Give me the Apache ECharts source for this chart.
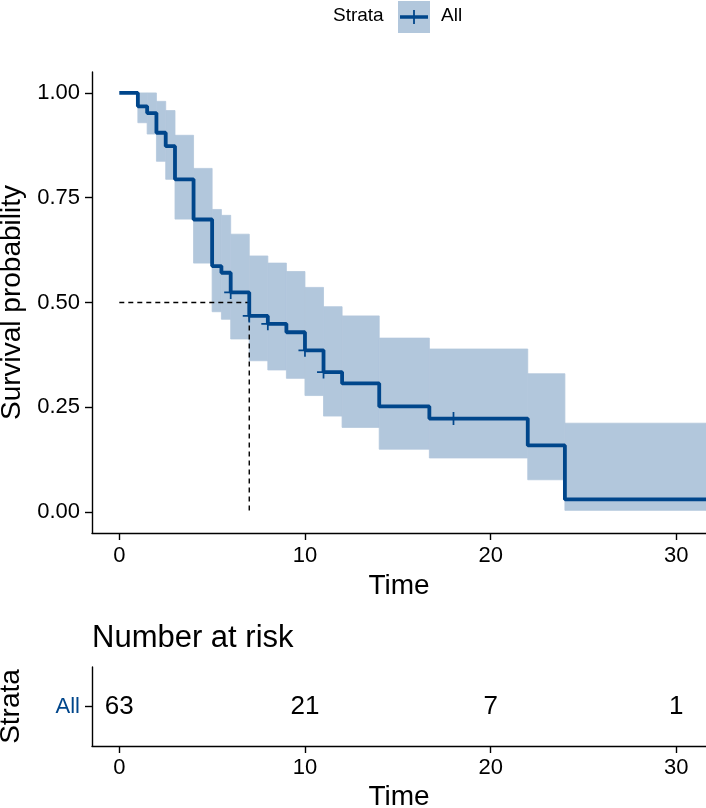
<!DOCTYPE html>
<html>
<head>
<meta charset="utf-8">
<title>Survival curve</title>
<script src="https://cdn.jsdelivr.net/npm/echarts@6/dist/echarts.min.js"></script>
<style>
    html, body { margin: 0; padding: 0; background: #fff; }
    #chart { width: 706px; height: 808px; }
</style>
</head>
<body>
<div id="chart"></div>
<script>
    // Kaplan-Meier estimate (step points)
    var times = [0, 1, 1.5, 2, 2.5, 3, 4, 5, 5.5, 6, 7, 8, 9, 10, 11, 12, 14, 16.7, 22, 24, 31.6];
    var surv = [1, 0.968, 0.952, 0.905, 0.873, 0.794, 0.698, 0.587, 0.571, 0.524, 0.468, 0.449, 0.429, 0.386, 0.334, 0.307, 0.252, 0.223, 0.159, 0.030, 0.030];

    // 95% confidence band, one entry per step starting at bandStart
    var bandStart = [1, 1.5, 2, 2.5, 3, 4, 5, 5.5, 6, 7, 8, 9, 10, 11, 12, 14, 16.7, 22, 24];
    var bandLower = [0.929, 0.902, 0.837, 0.794, 0.699, 0.594, 0.478, 0.460, 0.413, 0.361, 0.339, 0.319, 0.278, 0.229, 0.202, 0.150, 0.129, 0.077, 0.004];
    var bandUpper = [1.0, 1.0, 0.980, 0.958, 0.899, 0.820, 0.722, 0.708, 0.663, 0.611, 0.594, 0.574, 0.536, 0.490, 0.468, 0.415, 0.389, 0.330, 0.212];

    // censored observations
    var censorTimes = [6, 7, 8, 10, 11, 18];

    // number at risk table
    var riskTimes = [0, 10, 20, 30];
    var riskCounts = [63, 21, 7, 1];
    var strata = ['All'];

    var xTicks = [0, 10, 20, 30];
    var yTicks = [0, 0.25, 0.5, 0.75, 1];

    var lineColor = '#00468B';
    var bandColor = '#B2C7DC';
    var font = "'Liberation Sans', Arial, sans-serif";

    function survAt(t) {
        var s = surv[0];
        for (var i = 0; i < times.length; i++) {
            if (times[i] <= t) s = surv[i];
        }
        return s;
    }

    var lastTime = times[times.length - 1];
    var bandData = bandStart.map(function (t, i) {
        var end = i < bandStart.length - 1 ? bandStart[i + 1] : lastTime;
        return [t, end, bandLower[i], bandUpper[i]];
    });
    var kmData = times.map(function (t, i) { return [t, surv[i]]; });
    var censorData = censorTimes.map(function (t) { return [t, survAt(t)]; });

    var median = null;
    for (var i = 0; i < times.length; i++) {
        if (surv[i] <= 0.5) { median = times[i]; break; }
    }
    var medianData = [[0, 0.5], [median, 0.5], [median, 0]];

    var riskData = riskTimes.map(function (t, i) { return [t, 0, riskCounts[i]]; });

    var axisLine = { show: true, onZero: false, lineStyle: { color: '#000', width: 1.4 } };
    var axisTick = { show: true, length: 7, lineStyle: { color: '#000', width: 1.4 } };

    function timeAxis(gridIndex, margin, nameGap) {
        return {
            type: 'value',
            gridIndex: gridIndex,
            min: -1.47,
            max: 31.6,
            name: 'Time',
            nameLocation: 'middle',
            nameGap: nameGap,
            nameTextStyle: { fontSize: 28, color: '#000', fontFamily: font },
            axisLine: axisLine,
            axisTick: Object.assign({ customValues: xTicks }, axisTick),
            axisLabel: {
                customValues: xTicks,
                margin: margin,
                fontSize: 22,
                color: '#000',
                fontFamily: font
            },
            splitLine: { show: false }
        };
    }

    var option = {
        animation: false,
        backgroundColor: '#fff',
        textStyle: { fontFamily: font },
        title: {
            text: 'Number at risk',
            left: 92,
            top: 623,
            padding: 0,
            textStyle: { fontSize: 31, fontWeight: 'normal', color: '#000', fontFamily: font }
        },
        grid: [
            { left: 92, top: 72, width: 614, height: 461, containLabel: false, outerBoundsMode: 'none' },
            { left: 92, top: 667, width: 614, height: 79, containLabel: false, outerBoundsMode: 'none' }
        ],
        xAxis: [timeAxis(0, 12, 38), timeAxis(1, 11, 37)],
        yAxis: [{
            type: 'value',
            gridIndex: 0,
            min: -0.05,
            max: 1.05,
            name: 'Survival probability',
            nameLocation: 'middle',
            nameGap: 63,
            nameTextStyle: { fontSize: 28, color: '#000', fontFamily: font },
            axisLine: axisLine,
            axisTick: Object.assign({ customValues: yTicks }, axisTick),
            axisLabel: {
                customValues: yTicks,
                margin: 12,
                fontSize: 22,
                color: '#000',
                fontFamily: font,
                formatter: function (v) { return v.toFixed(2); }
            },
            splitLine: { show: false }
        }, {
            type: 'category',
            gridIndex: 1,
            data: strata,
            name: 'Strata',
            nameLocation: 'middle',
            nameGap: 67,
            nameTextStyle: { fontSize: 28, color: '#000', fontFamily: font },
            axisLine: axisLine,
            axisTick: { show: true, length: 7, alignWithLabel: true, lineStyle: { color: '#000', width: 1.4 } },
            axisLabel: { margin: 12, fontSize: 22, color: lineColor, fontFamily: font },
            splitLine: { show: false }
        }],
        graphic: [
            { type: 'text', left: 333, top: 6, style: { text: 'Strata', fontSize: 19, fill: '#000', fontFamily: font } },
            { type: 'rect', shape: { x: 398, y: 1, width: 32, height: 32 }, style: { fill: bandColor } },
            { type: 'line', shape: { x1: 400, y1: 17, x2: 428, y2: 17 }, style: { stroke: lineColor, lineWidth: 3.5 } },
            { type: 'line', shape: { x1: 414, y1: 10, x2: 414, y2: 24 }, style: { stroke: lineColor, lineWidth: 1.8 } },
            { type: 'text', left: 441, top: 6, style: { text: 'All', fontSize: 19, fill: '#000', fontFamily: font } }
        ],
        series: [{
            type: 'custom',
            xAxisIndex: 0,
            yAxisIndex: 0,
            z: 1,
            encode: { x: [0, 1], y: [2, 3] },
            data: bandData,
            renderItem: function (params, api) {
                var p0 = api.coord([api.value(0), api.value(3)]);
                var p1 = api.coord([api.value(1), api.value(2)]);
                return {
                    type: 'rect',
                    shape: { x: p0[0], y: p0[1], width: p1[0] - p0[0], height: p1[1] - p0[1] },
                    style: { fill: bandColor, stroke: bandColor, lineWidth: 0.8 }
                };
            }
        }, {
            type: 'line',
            xAxisIndex: 0,
            yAxisIndex: 0,
            z: 2,
            data: medianData,
            symbol: 'none',
            lineStyle: { color: '#000', width: 1.4, type: [5, 4] }
        }, {
            type: 'line',
            xAxisIndex: 0,
            yAxisIndex: 0,
            z: 3,
            step: 'end',
            data: kmData,
            symbol: 'none',
            lineStyle: { color: lineColor, width: 3.8 }
        }, {
            type: 'scatter',
            xAxisIndex: 0,
            yAxisIndex: 0,
            z: 4,
            data: censorData,
            symbol: 'path://M-6,-0.8 H6 V0.8 H-6 Z M-0.8,-6 H0.8 V6 H-0.8 Z',
            symbolSize: [13, 13],
            itemStyle: { color: lineColor, opacity: 1 }
        }, {
            type: 'scatter',
            xAxisIndex: 1,
            yAxisIndex: 1,
            data: riskData,
            symbolSize: 0,
            itemStyle: { opacity: 1 },
            label: {
                show: true,
                position: 'inside',
                fontSize: 26,
                color: '#000',
                opacity: 1,
                textBorderWidth: 0,
                fontFamily: font,
                formatter: function (p) { return String(p.value[2]); }
            }
        }]
    };

    var chart = echarts.init(document.getElementById('chart'));
    chart.setOption(option);
</script>
</body>
</html>
